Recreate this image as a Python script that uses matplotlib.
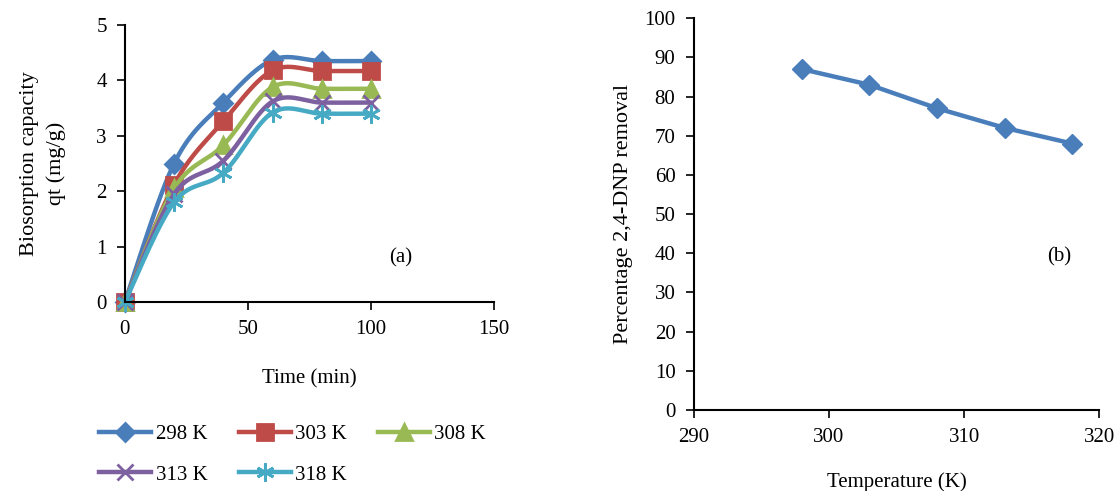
import numpy as np
import matplotlib.pyplot as plt

plt.rcParams['font.family'] = ['Liberation Serif', 'DejaVu Serif']

# data (a)
time = [0, 20, 40, 60, 80, 100]
q298 = [0, 2.5, 3.6, 4.37, 4.35, 4.35]
q303 = [0, 2.12, 3.26, 4.18, 4.17, 4.17]
q308 = [0, 2.05, 2.83, 3.88, 3.85, 3.85]
q313 = [0, 1.95, 2.55, 3.62, 3.6, 3.6]
q318 = [0, 1.8, 2.33, 3.42, 3.4, 3.4]
labels = ['298 K', '303 K', '308 K', '313 K', '318 K']

# data (b)
temp = [298, 303, 308, 313, 318]
removal = [87, 83, 77, 72, 68]

colors = ['#4A7EBB', '#BE4B48', '#98B954', '#7D60A0', '#46AAC5']
markers = ['D', 's', '^', 'x', (6, 2, 0)]
msizes = [9, 12, 11, 12, 13]


def smooth(x, y, n=30):
    # excel-like bezier smoothing through the points
    x = np.asarray(x, float)
    y = np.asarray(y, float)
    P = np.column_stack([x, y])
    out = []
    for i in range(len(P) - 1):
        p0 = P[i - 1] if i > 0 else P[i]
        p1 = P[i]
        p2 = P[i + 1]
        p3 = P[i + 2] if i + 2 < len(P) else P[i + 1]
        c1 = p1 + (p2 - p0) / 6
        c2 = p2 - (p3 - p1) / 6
        t = np.linspace(0, 1, n)[:, None]
        seg = (1 - t)**3 * p1 + 3 * (1 - t)**2 * t * c1 + 3 * (1 - t) * t**2 * c2 + t**3 * p2
        out.append(seg if i == 0 else seg[1:])
    out = np.vstack(out)
    return out[:, 0], out[:, 1]


fig = plt.figure(figsize=(11.15, 4.91), dpi=100)
ax1 = fig.add_axes([0.112, 0.385, 0.331, 0.564])
ax2 = fig.add_axes([0.622, 0.165, 0.364, 0.798])

handles = []
for ys, c, m, ms, lab in zip([q298, q303, q308, q313, q318], colors, markers, msizes, labels):
    sx, sy = smooth(time, ys)
    ax1.plot(sx, sy, color=c, lw=3.2, solid_capstyle='round')
    ax1.plot(time, ys, ls='none', marker=m, color=c, ms=ms, mew=2)
    h, = ax1.plot([], [], color=c, lw=3.2, marker=m, ms=ms, mew=2, label=lab)
    handles.append(h)

ax1.set_xlim(0, 150)
ax1.set_ylim(0, 5)
ax1.set_xticks([0, 50, 100, 150])
ax1.set_yticks(range(6))
ax1.set_xlabel('Time (min)', fontsize=15, labelpad=22)
ax1.set_ylabel('Biosorption capacity\nqt (mg/g)', fontsize=16, labelpad=22, linespacing=1.5)
ax1.text(112, 0.8, '(a)', fontsize=15, ha='center', va='center')
# excel fills the legend row by row
order = [0, 3, 1, 4, 2]
ax1.legend([handles[i] for i in order], [labels[i] for i in order],
           loc='upper left', bbox_to_anchor=(-0.12, -0.375), ncol=3, frameon=False,
           fontsize=15, handlelength=2.5, columnspacing=1.5, labelspacing=1.0, handletextpad=0.2)

ax2.plot(temp, removal, color=colors[0], lw=3.2, marker='D', ms=10)
ax2.set_xlim(290, 320)
ax2.set_ylim(0, 100)
ax2.set_xticks([290, 300, 310, 320])
ax2.set_yticks(range(0, 101, 10))
ax2.set_xlabel('Temperature (K)', fontsize=15, labelpad=18)
ax2.set_ylabel('Percentage 2,4-DNP removal', fontsize=16, labelpad=8)
ax2.text(317, 39, '(b)', fontsize=15, ha='center', va='center')

for ax in (ax1, ax2):
    ax.spines['top'].set_visible(False)
    ax.spines['right'].set_visible(False)
    ax.spines['left'].set_linewidth(1.5)
    ax.spines['bottom'].set_linewidth(1.5)
    ax.tick_params(direction='out', length=6, width=1.2, labelsize=15, pad=7)
    for l in ax.lines:
        l.set_clip_on(False)

fig.savefig('out.png', dpi=100)
